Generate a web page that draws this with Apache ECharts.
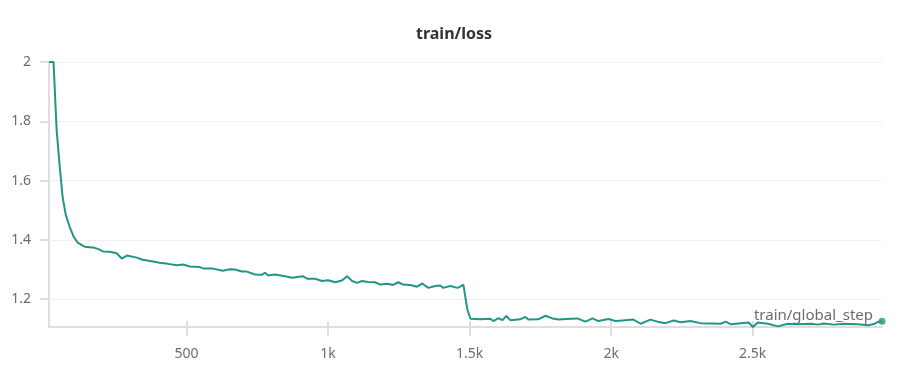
<!DOCTYPE html>
<html><head><meta charset="utf-8">
<script src="https://cdn.jsdelivr.net/npm/echarts@6/dist/echarts.min.js"></script>
<style>html,body{margin:0;padding:0;background:#fff}#c{width:898px;height:372px}</style>
</head><body><div id="c"></div>
<script>
const steps = [14,30,41,52,62,73,87,101,115,140,158,176,193,204,229,253,271,289,324,345,381,405,434,466,487,512,547,561,593,628,653,671,696,713,742,766,777,788,812,848,873,890,912,926,954,979,1000,1025,1049,1067,1085,1102,1120,1141,1166,1184,1209,1230,1248,1265,1290,1315,1333,1354,1379,1396,1407,1432,1457,1467,1478,1492,1503,1538,1573,1584,1602,1616,1630,1644,1679,1697,1708,1743,1768,1793,1814,1839,1881,1909,1934,1955,1991,2015,2040,2079,2104,2139,2164,2192,2221,2246,2281,2292,2316,2352,2387,2405,2423,2458,2486,2501,2518,2554,2589,2624,2660,2681,2706,2731,2752,2787,2823,2872,2908,2929,2943,2957];
const loss = [2.0,2.0,1.770,1.646,1.545,1.485,1.444,1.411,1.391,1.377,1.375,1.373,1.367,1.361,1.360,1.355,1.337,1.347,1.340,1.333,1.327,1.323,1.319,1.314,1.317,1.310,1.308,1.303,1.303,1.296,1.301,1.300,1.293,1.293,1.283,1.282,1.289,1.280,1.283,1.277,1.272,1.275,1.277,1.269,1.269,1.261,1.264,1.257,1.263,1.277,1.261,1.255,1.261,1.258,1.257,1.249,1.252,1.248,1.257,1.249,1.248,1.242,1.253,1.238,1.244,1.246,1.238,1.244,1.238,1.242,1.249,1.165,1.134,1.132,1.134,1.126,1.136,1.129,1.143,1.129,1.132,1.140,1.131,1.132,1.144,1.135,1.131,1.133,1.135,1.124,1.135,1.126,1.133,1.126,1.128,1.131,1.117,1.131,1.124,1.119,1.128,1.122,1.126,1.124,1.119,1.118,1.117,1.124,1.115,1.119,1.121,1.106,1.121,1.117,1.108,1.117,1.115,1.116,1.117,1.114,1.118,1.114,1.117,1.115,1.112,1.116,1.123,1.125];
const yTicks = [1.2,1.4,1.6,1.8,2];
const xTicks = [500,1000,1500,2000,2500];
const xTickLabels = ['500','1k','1.5k','2k','2.5k'];
const title = 'train/loss';
const seriesLabel = 'train/global_step';

const FONT = 'Noto Sans';
const TXT = '#6b6b76';
const AX = '#dedede';
const LINE = '#229683';
const xMin = steps[0], xMax = steps[steps.length-1];
const yMin = 1.106, yMax = 2;

const data = steps.map((s,i)=>[s,loss[i]]);
const chart = echarts.init(document.getElementById('c'), null, {renderer:'canvas'});
chart.setOption({
  animation:false,
  title:{text:title,left:411,top:21,textStyle:{fontFamily:FONT,fontSize:16,fontWeight:'bold',color:'#333'}},
  grid:{left:49,right:16,top:62,bottom:45,containLabel:false},
  xAxis:[{
    type:'value',min:xMin,max:xMax,
    axisLine:{show:true,lineStyle:{color:AX,width:2}},
    axisTick:{show:true,customValues:xTicks,length:9,inside:false,lineStyle:{color:AX,width:2}},
    axisLabel:{customValues:xTicks,formatter:v=>xTickLabels[xTicks.indexOf(v)],color:TXT,fontFamily:FONT,fontSize:14,margin:20},
    splitLine:{show:false}
  },{
    type:'value',min:xMin,max:xMax,position:'bottom',
    axisLine:{show:false},
    axisTick:{show:true,customValues:xTicks,length:6,inside:true,lineStyle:{color:AX,width:2}},
    axisLabel:{show:false},splitLine:{show:false}
  }],
  yAxis:[{
    type:'value',min:yMin,max:yMax,
    axisLine:{show:true,lineStyle:{color:AX,width:2}},
    axisTick:{show:true,customValues:yTicks,length:9,lineStyle:{color:AX,width:2}},
    axisLabel:{customValues:yTicks,formatter:v=>String(v),color:TXT,fontFamily:FONT,fontSize:14,margin:18},
    splitLine:{show:false}
  },{
    type:'value',min:yMin,max:yMax,position:'left',
    axisLine:{show:false},
    axisTick:{show:true,customValues:yTicks,length:833,inside:true,lineStyle:{color:'#efefef',width:1}},
    axisLabel:{show:false},splitLine:{show:false}
  }],
  series:[{
    type:'line',name:seriesLabel,data:data,showSymbol:false,
    lineStyle:{color:LINE,width:2},itemStyle:{color:LINE},
    clip:true,z:3,
    endLabel:{show:true,formatter:seriesLabel,color:TXT,fontFamily:FONT,fontSize:15,align:'right',verticalAlign:'bottom',offset:[-17,2]}
  },{
    type:'scatter',data:[data[data.length-1]],symbolSize:7,itemStyle:{color:LINE},z:4,clip:false
  }]
});
</script></body></html>
